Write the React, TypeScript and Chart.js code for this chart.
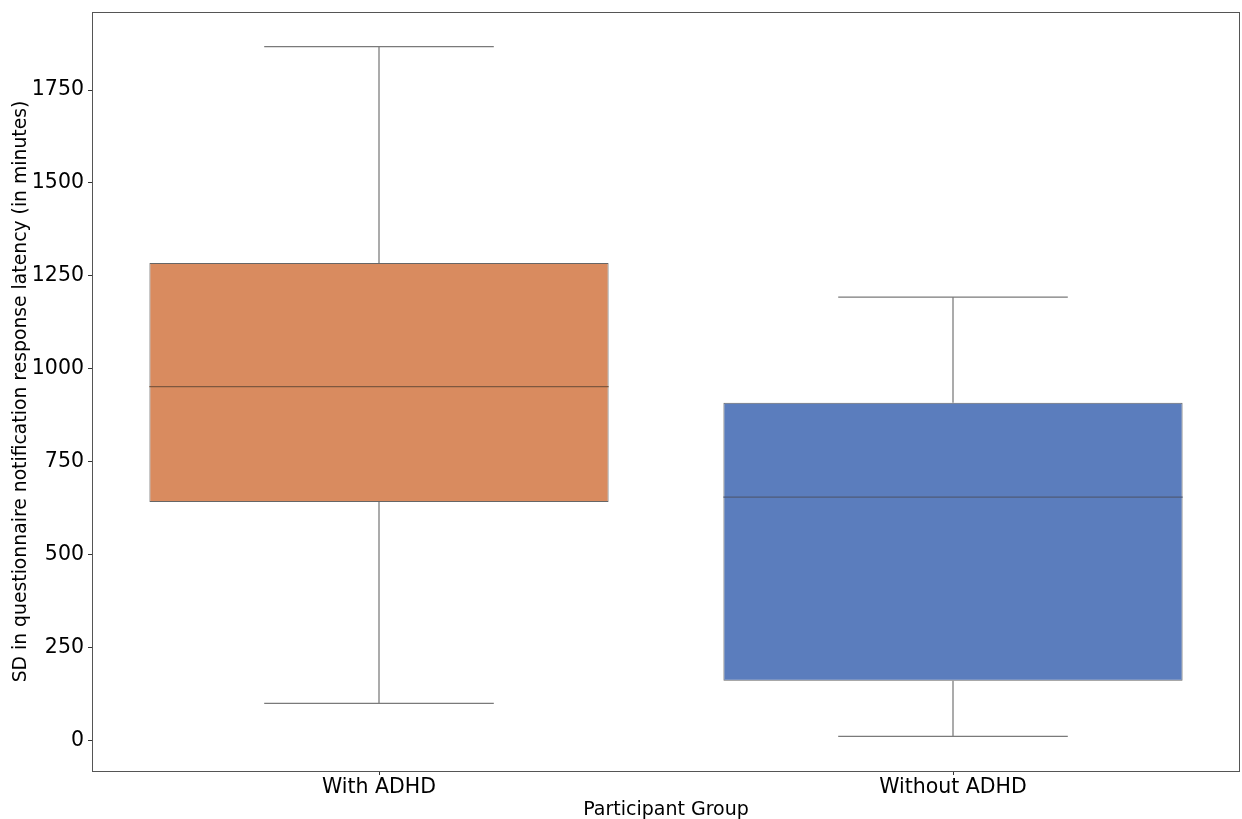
import React, { useEffect, useRef } from "react";
import { Chart, registerables } from "chart.js";

Chart.register(...registerables);

const categories = ["With ADHD", "Without ADHD"];
const whiskerLow = [100, 11];
const q1 = [642, 161];
const median = [952, 655];
const q3 = [1285, 909];
const whiskerHigh = [1867, 1193];
const yTicks = [0, 250, 500, 750, 1000, 1250, 1500, 1750];
const boxColors = ["#D98B5F", "#5B7DBD"];
const medianColors = ["#7e573f", "#4f5b78"];

const FONT = "'DejaVu Sans', sans-serif";

const boxPlugin = {
  id: "boxExtras",
  afterDatasetsDraw(chart: any) {
    const { ctx, scales, chartArea } = chart;
    const xs = scales.x;
    const ys = scales.y;
    const meta = chart.getDatasetMeta(0);
    ctx.save();
    categories.forEach((_, i) => {
      const bar = meta.data[i];
      const cx = xs.getPixelForValue(i);
      const half = bar.width / 2;
      const capHalf = half / 2;
      const yLo = ys.getPixelForValue(whiskerLow[i]);
      const yQ1 = ys.getPixelForValue(q1[i]);
      const yQ3 = ys.getPixelForValue(q3[i]);
      const yHi = ys.getPixelForValue(whiskerHigh[i]);
      const yMed = ys.getPixelForValue(median[i]);
      ctx.strokeStyle = "#7a7a7a";
      ctx.lineWidth = 1.25;
      ctx.beginPath();
      ctx.moveTo(cx, yQ1);
      ctx.lineTo(cx, yLo);
      ctx.moveTo(cx - capHalf, yLo);
      ctx.lineTo(cx + capHalf, yLo);
      ctx.moveTo(cx, yQ3);
      ctx.lineTo(cx, yHi);
      ctx.moveTo(cx - capHalf, yHi);
      ctx.lineTo(cx + capHalf, yHi);
      ctx.stroke();
      ctx.strokeStyle = medianColors[i];
      ctx.lineWidth = 1.25;
      ctx.beginPath();
      ctx.moveTo(cx - half, yMed);
      ctx.lineTo(cx + half, yMed);
      ctx.stroke();
    });
    ctx.strokeStyle = "#555555";
    ctx.lineWidth = 1;
    ctx.strokeRect(
      Math.round(chartArea.left) + 0.5,
      Math.round(chartArea.top) + 0.5,
      Math.round(chartArea.right - chartArea.left) - 1,
      Math.round(chartArea.bottom - chartArea.top)
    );
    ctx.restore();
  },
};

export default function App() {
  const ref = useRef<HTMLCanvasElement>(null);
  useEffect(() => {
    if (!ref.current) return;
    const chart = new Chart(ref.current, {
      type: "bar",
      data: {
        labels: categories,
        datasets: [
          {
            data: categories.map((_, i) => [q1[i], q3[i]]) as any,
            backgroundColor: boxColors,
            borderColor: "#666666",
            borderWidth: 1,
            borderSkipped: false,
            barPercentage: 0.8,
            categoryPercentage: 1,
          },
        ],
      },
      options: {
        responsive: false,
        animation: false,
        layout: { padding: { top: 12, right: 2, left: 0, bottom: 0 } },
        plugins: { legend: { display: false }, tooltip: { enabled: false } },
        scales: {
          x: {
            offset: true,
            grid: {
              display: true,
              drawOnChartArea: false,
              drawTicks: true,
              tickLength: 4,
              color: "#333333",
              offset: false,
            },
            border: { display: false },
            ticks: { color: "#000", font: { family: FONT, size: 20.5 }, padding: 0 },
            title: {
              display: true,
              text: "Participant Group",
              color: "#000",
              font: { family: FONT, size: 19 },
              padding: { top: 0, bottom: -2 },
            },
            afterFit: (s: any) => {
              s.height = 48;
              s.paddingLeft = 0;
              s.paddingRight = 0;
            },
          },
          y: {
            min: -82,
            max: 1960,
            afterBuildTicks: (s: any) => {
              s.ticks = yTicks.map((v) => ({ value: v }));
            },
            grid: {
              display: true,
              drawOnChartArea: false,
              drawTicks: true,
              tickLength: 4,
              color: "#333333",
            },
            border: { display: false },
            ticks: {
              color: "#000",
              font: { family: FONT, size: 20.5 },
              padding: 4,
              callback: (v: any) => String(v),
            },
            title: {
              display: true,
              text: "SD in questionnaire notification response latency (in minutes)",
              color: "#000",
              font: { family: FONT, size: 18.8 },
              padding: { top: 10, bottom: 0 },
            },
            afterFit: (s: any) => {
              s.width = 92;
              s.paddingTop = 0;
              s.paddingBottom = 0;
            },
          },
        },
      },
      plugins: [boxPlugin],
    });
    return () => chart.destroy();
  }, []);
  return (
    <div style={{ position: "absolute", left: 0, top: 0, width: 1242, height: 819, background: "#fff" }}>
      <canvas ref={ref} width={1242} height={819} />
    </div>
  );
}
